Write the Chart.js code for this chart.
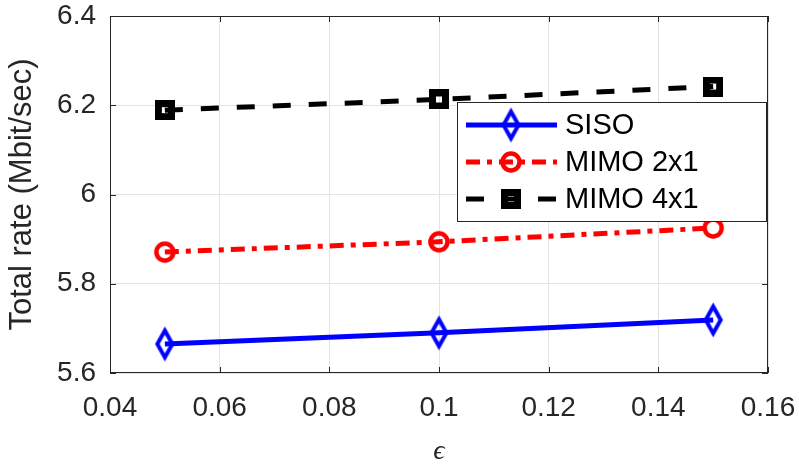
<!DOCTYPE html>
<html>
<head>
<meta charset="utf-8">
<script src="https://cdn.jsdelivr.net/npm/chart.js@4"></script>
<style>
  html, body { margin: 0; padding: 0; background: #fff; }
  #chart { display: block; }
</style>
</head>
<body>
<canvas id="chart" width="799" height="466"></canvas>
<script>
// ========================================
// Total rate vs epsilon
// ========================================

// Data
const epsilonValues = [0.05, 0.1, 0.15];
const sisoRate = [5.665, 5.690, 5.719];
const mimo2x1Rate = [5.871, 5.894, 5.925];
const mimo4x1Rate = [6.189, 6.213, 6.242];
const seriesNames = ['SISO', 'MIMO 2x1', 'MIMO 4x1'];

const AXIS_COLOR = '#262626';
const GRID_COLOR = '#e3e3e3';
const FONT = '"Liberation Sans", Arial, Helvetica, sans-serif';

/**
 * Build an unfilled marker on its own small canvas (MATLAB style markers)
 */
function makeMarker(kind, color) {
    const c = document.createElement('canvas');
    const ctx = c.getContext('2d');
    if (kind === 'diamond') {
        const w = 15, h = 27, lw = 4;
        c.width = w + lw * 2; c.height = h + lw * 3;
        const cx = c.width / 2, cy = c.height / 2;
        ctx.lineWidth = lw;
        ctx.strokeStyle = color;
        ctx.lineJoin = 'miter';
        ctx.beginPath();
        ctx.moveTo(cx, cy - h / 2);
        ctx.lineTo(cx + w / 2, cy);
        ctx.lineTo(cx, cy + h / 2);
        ctx.lineTo(cx - w / 2, cy);
        ctx.closePath();
        ctx.stroke();
    } else if (kind === 'circle') {
        const r = 8.5, lw = 4.5;
        c.width = c.height = Math.ceil(2 * r + lw * 2);
        ctx.lineWidth = lw;
        ctx.strokeStyle = color;
        ctx.beginPath();
        ctx.arc(c.width / 2, c.height / 2, r, 0, Math.PI * 2);
        ctx.stroke();
    } else {
        const s = 13, lw = 7;
        c.width = c.height = s + lw;
        ctx.lineWidth = lw;
        ctx.strokeStyle = color;
        ctx.strokeRect(lw / 2, lw / 2, s, s);
    }
    return c;
}

const toPoints = ys => epsilonValues.map((x, i) => ({ x: x, y: ys[i] }));

const datasets = [
    {
        label: seriesNames[0],
        data: toPoints(sisoRate),
        borderColor: '#0000ff',
        borderWidth: 5,
        borderDash: [],
        pointStyle: makeMarker('diamond', '#0000ff')
    },
    {
        label: seriesNames[1],
        data: toPoints(mimo2x1Rate),
        borderColor: '#ff0000',
        borderWidth: 5,
        borderDash: [14, 7, 5, 7],
        pointStyle: makeMarker('circle', '#ff0000')
    },
    {
        label: seriesNames[2],
        data: toPoints(mimo4x1Rate),
        borderColor: '#000000',
        borderWidth: 5,
        borderDash: [18, 18],
        pointStyle: makeMarker('square', '#000000')
    }
].map(ds => Object.assign(ds, {
    fill: false,
    tension: 0,
    backgroundColor: 'transparent',
    pointRadius: 10,
    pointHoverRadius: 10
}));

// Box around the axes, inward ticks and the MATLAB-like legend
const framePlugin = {
    id: 'frame',
    afterDraw(chart) {
        const { ctx, chartArea: a } = chart;
        const xs = chart.scales.x, ys = chart.scales.y;
        ctx.save();
        ctx.strokeStyle = AXIS_COLOR;
        ctx.lineWidth = 1;
        ctx.strokeRect(a.left + 0.5, a.top + 0.5, a.right - a.left - 1, a.bottom - a.top - 1);
        const tl = 6;
        ctx.beginPath();
        xs.ticks.forEach(t => {
            const px = Math.round(xs.getPixelForValue(t.value)) + 0.5;
            ctx.moveTo(px, a.bottom); ctx.lineTo(px, a.bottom - tl);
            ctx.moveTo(px, a.top); ctx.lineTo(px, a.top + tl);
        });
        ys.ticks.forEach(t => {
            const py = Math.round(ys.getPixelForValue(t.value)) + 0.5;
            ctx.moveTo(a.left, py); ctx.lineTo(a.left + tl, py);
            ctx.moveTo(a.right, py); ctx.lineTo(a.right - tl, py);
        });
        ctx.stroke();

        // legend
        const box = { x: 457, y: 102, w: 309, h: 119 };
        ctx.fillStyle = '#ffffff';
        ctx.fillRect(box.x, box.y, box.w, box.h);
        ctx.strokeStyle = AXIS_COLOR;
        ctx.lineWidth = 1;
        ctx.strokeRect(box.x + 0.5, box.y + 0.5, box.w, box.h);
        const rowY = [125, 162, 199];
        chart.data.datasets.forEach((ds, i) => {
            const y = rowY[i];
            ctx.save();
            ctx.strokeStyle = ds.borderColor;
            ctx.lineWidth = ds.borderWidth;
            ctx.setLineDash(ds.borderDash);
            ctx.beginPath();
            ctx.moveTo(466, y);
            ctx.lineTo(557, y);
            ctx.stroke();
            ctx.restore();
            const img = ds.pointStyle;
            ctx.drawImage(img, 511 - img.width / 2, y - img.height / 2);
            ctx.fillStyle = '#000000';
            ctx.font = '29px ' + FONT;
            ctx.textBaseline = 'middle';
            ctx.fillText(ds.label, 565, y + 1);
        });
        ctx.restore();
    }
};

const tickLabel = v => String(Number(Number(v).toFixed(2)));

const chart = new Chart(document.getElementById('chart').getContext('2d'), {
    type: 'line',
    data: { datasets: datasets },
    options: {
        responsive: false,
        devicePixelRatio: 1,
        animation: false,
        layout: { padding: { top: 16, right: 31, left: 0, bottom: 0 } },
        plugins: {
            legend: { display: false },
            tooltip: { enabled: false }
        },
        scales: {
            x: {
                type: 'linear',
                min: 0.04,
                max: 0.16,
                ticks: {
                    stepSize: 0.02,
                    color: AXIS_COLOR,
                    font: { family: FONT, size: 28 },
                    padding: 18,
                    maxRotation: 0,
                    callback: tickLabel
                },
                grid: { color: GRID_COLOR, drawTicks: false },
                border: { display: false },
                title: {
                    display: true,
                    text: '\u03f5',
                    color: AXIS_COLOR,
                    font: { family: '"Liberation Serif", "DejaVu Serif", serif', size: 28, style: 'italic' },
                    padding: { top: 0, bottom: -2 }
                },
                afterFit: s => {
                    s.height = 93;
                    s.paddingLeft = 0;
                    s.paddingRight = 0;
                }
            },
            y: {
                type: 'linear',
                min: 5.6,
                max: 6.4,
                ticks: {
                    stepSize: 0.2,
                    color: AXIS_COLOR,
                    font: { family: FONT, size: 28 },
                    padding: 14,
                    callback: tickLabel
                },
                grid: { color: GRID_COLOR, drawTicks: false },
                border: { display: false },
                title: {
                    display: true,
                    text: 'Total rate (Mbit/sec)',
                    color: AXIS_COLOR,
                    font: { family: FONT, size: 31 },
                    padding: { top: 4, bottom: 0 }
                },
                afterFit: s => {
                    s.width = 110;
                    s.paddingTop = 0;
                    s.paddingBottom = 0;
                }
            }
        }
    },
    plugins: [framePlugin]
});
</script>
</body>
</html>
